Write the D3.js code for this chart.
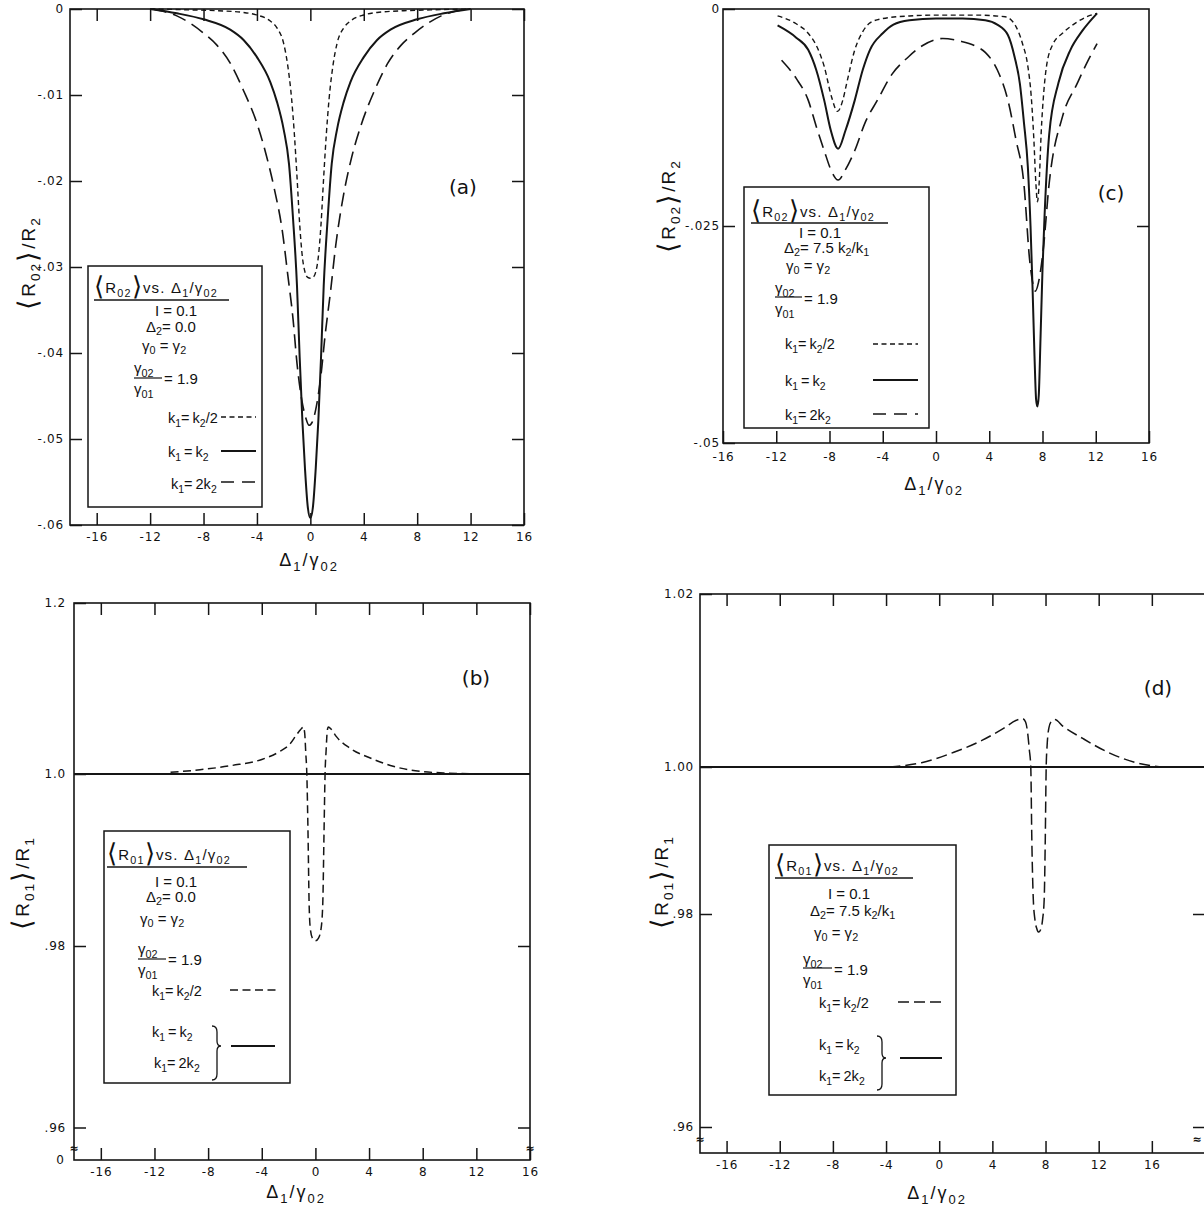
<!DOCTYPE html>
<html><head><meta charset="utf-8">
<script src="https://cdn.jsdelivr.net/npm/d3@7"></script>
<style>
body{margin:0;background:#fff;}
svg{display:block;}
text{font-family:"DejaVu Sans",sans-serif;fill:#111;}
.lg{font-family:"Liberation Sans","Arimo",sans-serif;}
</style></head><body>
<svg id="c" width="1204" height="1209"></svg>
<script>
// ---------------- DATA ----------------
const xTickVals = [-16,-12,-8,-4,0,4,8,12,16];
const xTickLabels = ["-16","-12","-8","-4","0","4","8","12","16"];

const aYTickVals = [0,-0.01,-0.02,-0.03,-0.04,-0.05,-0.06];
const aYTickLabels = ["0","-.01","-.02","-.03","-.04","-.05","-.06"];
const cYTickVals = [0,-0.025,-0.05];
const cYTickLabels = ["0","-.025","-.05"];
const bYTickVals = [1.02,1.00,0.98,0.96];
const bYTickLabels = ["1.2","1.0",".98",".96"];
const dYTickVals = [1.02,1.00,0.98,0.96];
const dYTickLabels = ["1.02","1.00",".98",".96"];

// panel (a): <R02>/R2, Delta2 = 0
const aShortX = [-12,-9,-7,-5,-4,-3,-2.5,-2,-1.7,-1.4,-1.2,-1,-0.8,-0.6,-0.4,-0.2,0,0.2,0.4,0.6,0.8,1,1.2,1.4,1.7,2,2.5,3,4,5,7,9,12];
const aShortY = [0,-0.0001,-0.0002,-0.0004,-0.0007,-0.0014,-0.0022,-0.0040,-0.0065,-0.0105,-0.0145,-0.0195,-0.0250,-0.0288,-0.0306,-0.0312,-0.0313,-0.0312,-0.0306,-0.0288,-0.0250,-0.0195,-0.0145,-0.0105,-0.0065,-0.0040,-0.0022,-0.0014,-0.0007,-0.0004,-0.0002,-0.0001,0];
const aSolidX = [-12,-10,-8,-6,-5,-4,-3,-2.5,-2,-1.6,-1.3,-1,-0.8,-0.6,-0.4,-0.2,0,0.2,0.4,0.6,0.8,1,1.3,1.6,2,2.5,3,4,5,6,8,10,12];
const aSolidY = [0,-0.0005,-0.0012,-0.0024,-0.0036,-0.0056,-0.0085,-0.0108,-0.0140,-0.0180,-0.0243,-0.0322,-0.0405,-0.0478,-0.0535,-0.0578,-0.0592,-0.0578,-0.0535,-0.0478,-0.0405,-0.0322,-0.0243,-0.0180,-0.0140,-0.0108,-0.0085,-0.0056,-0.0036,-0.0024,-0.0012,-0.0005,0];
const aLongX = [-11.8,-10,-8,-7,-6,-5,-4,-3.3,-2.7,-2.1,-1.7,-1.3,-1,-0.65,-0.35,-0.1,0.15,0.45,0.8,1.1,1.5,1.9,2.5,3.1,3.8,4.8,5.8,6.8,7.8,9.8,11.8];
const aLongY = [0,-0.0008,-0.0028,-0.0042,-0.0063,-0.0095,-0.0133,-0.0170,-0.0209,-0.0258,-0.0308,-0.0360,-0.0412,-0.0454,-0.0475,-0.0484,-0.0480,-0.0462,-0.0425,-0.0380,-0.0330,-0.0275,-0.0215,-0.0172,-0.0135,-0.0095,-0.0063,-0.0042,-0.0028,-0.0008,0];

// panel (c): <R02>/R2, Delta2 = 7.5 k2/k1
const cShortX = [-11.9,-10.5,-9.6,-8.9,-8.4,-7.85,-7.4,-7.0,-6.7,-6.1,-5.5,-4.96,-4,-2,0,3,5.2,6.0,6.5,6.9,7.15,7.35,7.5,7.62,7.75,7.9,8.1,8.3,8.8,9.5,10.5,11.3,12.1];
const cShortY = [-0.0008,-0.0017,-0.0028,-0.0045,-0.0066,-0.0101,-0.0118,-0.0105,-0.0085,-0.0047,-0.0026,-0.0016,-0.0011,-0.0008,-0.0007,-0.0007,-0.0009,-0.0020,-0.0040,-0.0066,-0.0100,-0.0150,-0.0200,-0.0222,-0.0200,-0.0143,-0.0095,-0.0066,-0.0040,-0.0028,-0.0016,-0.0009,-0.0005];
const cSolidX = [-11.9,-10.5,-9.6,-9.0,-8.4,-7.9,-7.35,-6.8,-6.1,-5.5,-4.96,-4.0,-3.2,-2,0,2,3.7,4.6,5.4,5.9,6.3,6.6,6.9,7.1,7.25,7.4,7.52,7.62,7.72,7.85,8.0,8.15,8.5,9.2,10.1,11,12.1];
const cSolidY = [-0.0019,-0.0033,-0.0047,-0.0070,-0.0105,-0.0140,-0.0161,-0.0140,-0.0105,-0.0070,-0.0047,-0.0028,-0.0018,-0.0013,-0.0011,-0.0011,-0.0013,-0.0018,-0.0030,-0.0055,-0.0086,-0.0130,-0.0182,-0.0250,-0.0320,-0.0400,-0.0450,-0.0458,-0.0445,-0.0380,-0.0300,-0.0240,-0.0145,-0.0085,-0.0047,-0.0025,-0.0005];
const cLongX = [-11.6,-10.5,-9.6,-9.0,-8.4,-7.9,-7.35,-6.8,-6.1,-5.3,-4.4,-3.3,-2.06,-1,0.5,1.8,3.0,3.7,4.6,5.4,6.0,6.6,7.04,7.3,7.47,7.7,8.05,8.5,9.5,10.6,11.4,12.1];
const cLongY = [-0.0059,-0.0080,-0.0105,-0.0135,-0.0163,-0.0185,-0.0197,-0.0185,-0.0163,-0.0130,-0.0105,-0.0075,-0.0055,-0.0042,-0.0034,-0.0037,-0.0043,-0.0050,-0.0070,-0.0105,-0.0150,-0.0201,-0.0290,-0.0318,-0.0325,-0.0315,-0.0278,-0.0201,-0.0124,-0.0086,-0.0060,-0.0040];

// panel (b): <R01>/R1, Delta2 = 0
const bDashX = [-10.8,-8.6,-6.2,-4,-2.7,-1.9,-1.4,-1.1,-0.9,-0.8,-0.72,-0.64,-0.55,-0.47,-0.38,-0.22,0,0.22,0.42,0.55,0.64,0.72,0.80,0.88,0.96,1.2,1.55,2.6,4.2,5.8,7.9,10,12.2];
const bDashY = [1.0002,1.0005,1.0010,1.0017,1.0026,1.0035,1.0046,1.0052,1.0055,1.0048,1.0025,1.0000,0.9930,0.9850,0.9820,0.9809,0.9806,0.9809,0.9820,0.9850,0.9930,1.0000,1.0028,1.0050,1.0055,1.0052,1.0044,1.0030,1.0018,1.0009,1.0003,1.0001,1.0000];
const bSolidX = [-18,16];
const bSolidY = [1.0,1.0];

// panel (d): <R01>/R1, Delta2 = 7.5 k2/k1
const dDashX = [-3.75,-1.33,1.1,3.25,4.87,5.8,6.27,6.5,6.65,6.78,6.89,6.97,7.08,7.2,7.35,7.48,7.62,7.78,7.9,7.98,8.05,8.12,8.25,8.45,8.7,9.32,10.8,12.7,14.8,16.7];
const dDashY = [1.0000,1.0005,1.0017,1.0031,1.0045,1.0054,1.0056,1.0052,1.0040,1.0020,1.0000,0.9900,0.9820,0.9795,0.9786,0.9783,0.9785,0.9795,0.9820,0.9900,1.0000,1.0025,1.0045,1.0053,1.0055,1.0047,1.0033,1.0017,1.0005,1.0000];
const dSolidX = [-18,20];
const dSolidY = [1.0,1.0];

// texts
const xTitle = "Δ_{1}/γ_{02}";
const yTitleR02 = "⟨R_{02}⟩/R_{2}";
const yTitleR01 = "⟨R_{01}⟩/R_{1}";
const legTitleR02 = "⟨R_{02}⟩vs. Δ_{1}/γ_{02}";
const legTitleR01 = "⟨R_{01}⟩vs. Δ_{1}/γ_{02}";
const parI = "I = 0.1";
const parD2zero = "Δ_{2}= 0.0";
const parD2 = "Δ_{2}= 7.5 k_{2}/k_{1}";
const parG = "γ_{0} = γ_{2}";
const fracNum = "γ_{02}", fracDen = "γ_{01}", fracVal = "= 1.9";
const keyLabels = ["k_{1}= k_{2}/2", "k_{1} = k_{2}", "k_{1}= 2k_{2}"];
const panelLetters = ["(a)","(b)","(c)","(d)"];

// ---------------- DRAWING ----------------
const svg = d3.select("#c");
const INK = "#151515";

function rich(g, x, y, str, fs, anchor, opt){
  opt = opt || {};
  const t = g.append("text").attr("x",x).attr("y",y).attr("font-size",fs)
    .attr("text-anchor",anchor||"start");
  if (opt.cls) t.attr("class",opt.cls);
  if (opt.transform) t.attr("transform",opt.transform);
  if (opt.ls) t.attr("letter-spacing",opt.ls);
  if (opt.ws) t.attr("word-spacing",opt.ws);
  const br = opt.br || 1.5, sub = opt.sub || 0.72, sh = opt.sh || 0.28;
  const parts = str.split(/(_\{[^}]*\}|[⟨⟩])/).filter(s=>s!=="");
  let shift = 0;
  parts.forEach(p=>{
    let txt=p, size=fs, target=0;
    if (p.startsWith("_{")) { txt=p.slice(2,-1); size=fs*sub; target=fs*sh; }
    else if (p==="⟨"||p==="⟩") { size=fs*br; target=fs*0.12; }
    const ts = t.append("tspan").attr("font-size",size).text(txt);
    if (Math.abs(target-shift)>1e-9) ts.attr("dy",target-shift);
    shift = target;
  });
  return t;
}

function panel(cfg){
  const g = svg.append("g");
  const x = d3.scaleLinear().domain(cfg.xDom).range([cfg.l,cfg.r]);
  const y = d3.scaleLinear().domain(cfg.yDom).range(cfg.yRng);
  const fmtX = d => xTickLabels[xTickVals.indexOf(d)];
  const fmtY = d => cfg.yLabels[cfg.yTicks.indexOf(d)];
  const style = sel => { sel.attr("font-size",null).attr("font-family",null);
    sel.select(".domain").remove();
    sel.selectAll(".tick line").attr("stroke",INK).attr("stroke-width",1.5);
    sel.selectAll(".tick text").attr("font-size",12).attr("letter-spacing",0.8).attr("fill",INK); };
  g.append("g").attr("transform",`translate(0,${cfg.b})`)
    .call(d3.axisBottom(x).tickValues(xTickVals).tickSize(-12).tickPadding(cfg.xPad).tickFormat(fmtX)).call(style);
  if (cfg.topTicks) g.append("g").attr("transform",`translate(0,${cfg.t})`)
    .call(d3.axisTop(x).tickValues(xTickVals).tickSize(-12).tickFormat("")).call(style);
  g.append("g").attr("transform",`translate(${cfg.l},0)`)
    .call(d3.axisLeft(y).tickValues(cfg.yTicks).tickSize(-12).tickPadding(cfg.yPad).tickFormat(fmtY)).call(style);
  g.append("g").attr("transform",`translate(${cfg.r},0)`)
    .call(d3.axisRight(y).tickValues(cfg.rightTicks).tickSize(-12).tickFormat("")).call(style);
  g.append("rect").attr("x",cfg.l).attr("y",cfg.t).attr("width",cfg.r-cfg.l).attr("height",cfg.b-cfg.t)
    .attr("fill","none").attr("stroke",INK).attr("stroke-width",1.6);
  cfg.series.forEach(s=>{
    const line = d3.line().x((d,i)=>x(s.xs[i])).y(d=>y(d)).curve(d3.curveMonotoneX);
    g.append("path").attr("d",line(s.ys)).attr("fill","none").attr("stroke",INK)
      .attr("stroke-width",s.w).attr("stroke-dasharray",s.dash||null);
  });
  rich(g, cfg.xt[0], cfg.xt[1], xTitle, 18, "middle", {cls:"lg",ls:2});
  rich(g, 0, 6, cfg.ytText, 19, "middle", {cls:"lg",ls:2,br:1.4,transform:`translate(${cfg.yt[0]},${cfg.yt[1]}) rotate(-90)`});
  g.append("text").attr("x",cfg.lt[0]).attr("y",cfg.lt[1]).attr("font-size",20)
    .attr("text-anchor","middle").attr("font-family","DejaVu Serif, serif").text(cfg.letter);
  return {g,x,y};
}

function legend(g, L){
  const fs = 15, o = {cls:"lg"}, ok = {cls:"lg", ws:-1};
  g.append("rect").attr("x",L.box[0]).attr("y",L.box[1]).attr("width",L.box[2]-L.box[0]).attr("height",L.box[3]-L.box[1])
    .attr("fill","#fff").attr("stroke",INK).attr("stroke-width",1.5);
  rich(g, L.title[0], L.title[1], L.titleText, 15, "start", {cls:"lg",br:1.7,ls:1.2});
  g.append("line").attr("x1",L.ul[0]).attr("x2",L.ul[1]).attr("y1",L.ul[2]).attr("y2",L.ul[2]).attr("stroke",INK).attr("stroke-width",1.4);
  rich(g, L.I[0], L.I[1], parI, fs, "middle", o);
  rich(g, L.D[0], L.D[1], L.dText, fs, "start", {cls:"lg",sh:0.22});
  rich(g, L.G[0], L.G[1], parG, fs, "start", {cls:"lg",sh:0.22});
  const f = L.frac;
  rich(g, f.x, f.num, fracNum, fs, "start", o);
  g.append("line").attr("x1",f.x).attr("x2",f.x2).attr("y1",f.line).attr("y2",f.line).attr("stroke",INK).attr("stroke-width",1.2);
  rich(g, f.x, f.den, fracDen, fs, "start", o);
  rich(g, f.eqx, f.eqy, fracVal, fs, "start", o);
  L.keys.forEach((k,i)=>{
    rich(g, k.tx, k.ty, keyLabels[i], 14.5, "start", ok);
    if (k.lx1!==undefined) g.append("line").attr("x1",k.lx1).attr("x2",k.lx2).attr("y1",k.ly).attr("y2",k.ly)
      .attr("stroke",INK).attr("stroke-width",k.w).attr("stroke-dasharray",k.dash||null);
  });
  if (L.brace){
    const b = L.brace;
    const p = d3.path();
    p.moveTo(b.x, b.y1);
    p.quadraticCurveTo(b.x+5, b.y1, b.x+5, b.y1+6);
    p.lineTo(b.x+5, b.tip-5);
    p.quadraticCurveTo(b.x+5, b.tip, b.x+9, b.tip);
    p.quadraticCurveTo(b.x+5, b.tip, b.x+5, b.tip+5);
    p.lineTo(b.x+5, b.y2-6);
    p.quadraticCurveTo(b.x+5, b.y2, b.x, b.y2);
    g.append("path").attr("d",p.toString()).attr("fill","none").attr("stroke",INK).attr("stroke-width",1.3);
    g.append("line").attr("x1",b.lx1).attr("x2",b.lx2).attr("y1",b.ly).attr("y2",b.ly).attr("stroke",INK).attr("stroke-width",1.8);
  }
}

const SHORT = "5,3.5", LONG = "14,7";

// ---- (a)
const A = panel({l:70,r:524,t:9,b:525,xDom:[-18,16],yDom:[-0.06,0],yRng:[525,9],
  yTicks:aYTickVals,yLabels:aYTickLabels,rightTicks:aYTickVals,topTicks:true,xPad:7,yPad:6,
  xt:[309,566],yt:[29,263],ytText:yTitleR02,lt:[463,194],letter:panelLetters[0],
  series:[{xs:aShortX,ys:aShortY,w:1.4,dash:SHORT},{xs:aSolidX,ys:aSolidY,w:2},{xs:aLongX,ys:aLongY,w:1.6,dash:LONG}]});
legend(A.g,{box:[88,266,262,507],title:[94,293],titleText:legTitleR02,ul:[94,229,300],I:[176,316],D:[146,332],dText:parD2zero,G:[142,351],
  frac:{x:134,num:373,line:378,x2:162,den:394,eqx:164,eqy:384},
  keys:[{tx:168,ty:423,lx1:221,lx2:256,ly:417,w:1.4,dash:SHORT},{tx:168,ty:457,lx1:221,lx2:256,ly:451,w:2},{tx:171,ty:489,lx1:221,lx2:256,ly:482,w:1.6,dash:"13,8"}]});

// ---- (c)
const C = panel({l:723,r:1149,t:9,b:443,xDom:[-16,16],yDom:[-0.05,0],yRng:[443,9],
  yTicks:cYTickVals,yLabels:cYTickLabels,rightTicks:[-0.025],topTicks:false,xPad:9,yPad:3,
  xt:[934,490],yt:[669,206],ytText:yTitleR02,lt:[1111,200],letter:panelLetters[2],
  series:[{xs:cShortX,ys:cShortY,w:1.4,dash:SHORT},{xs:cSolidX,ys:cSolidY,w:2},{xs:cLongX,ys:cLongY,w:1.6,dash:LONG}]});
legend(C.g,{box:[744,187,929,428],title:[751,217],titleText:legTitleR02,ul:[751,888,223],I:[820,238],D:[784,253],dText:parD2,G:[786,271],
  frac:{x:775,num:293,line:297,x2:802,den:314,eqx:804,eqy:304},
  keys:[{tx:785,ty:349,lx1:873,lx2:918,ly:344,w:1.4,dash:SHORT},{tx:785,ty:386,lx1:873,lx2:918,ly:380,w:2},{tx:785,ty:420,lx1:873,lx2:918,ly:414,w:1.6,dash:"13,8"}]});

// ---- (b)
const B = panel({l:74,r:530,t:603,b:1160,xDom:[-18,16],yDom:[0.96,0.98,1.00,1.02],yRng:[1127.5,946,774,603],
  yTicks:bYTickVals,yLabels:bYTickLabels,rightTicks:[0.98,0.96],topTicks:true,xPad:7,yPad:8,
  xt:[296,1198],yt:[23,883],ytText:yTitleR01,lt:[476,685],letter:panelLetters[1],
  series:[{xs:bSolidX,ys:bSolidY,w:2},{xs:bDashX,ys:bDashY,w:1.5,dash:"8,4.5"}]});
legend(B.g,{box:[104,831,290,1083],title:[107,860],titleText:legTitleR01,ul:[107,247,867],I:[176,887],D:[146,902],dText:parD2zero,G:[140,924],
  frac:{x:138,num:954,line:959,x2:166,den:975,eqx:168,eqy:965},
  keys:[{tx:152,ty:996,lx1:230,lx2:280,ly:990,w:1.5,dash:"8,4.5"},{tx:152,ty:1037},{tx:154,ty:1068}],
  brace:{x:212,y1:1026,y2:1080,tip:1046,lx1:231,lx2:275,ly:1046}});
B.g.append("text").attr("x",64).attr("y",1164).attr("font-size",12).attr("text-anchor","end").text("0");
[74,530].forEach(xx=>B.g.append("text").attr("x",xx).attr("y",1152).attr("font-size",11).attr("text-anchor","middle").attr("font-weight","bold").text("≈"));

// ---- (d)
const D = panel({l:700,r:1205,t:594,b:1153,xDom:[-18,20],yDom:[0.96,0.98,1.00,1.02],yRng:[1127,914,767,594],
  yTicks:dYTickVals,yLabels:dYTickLabels,rightTicks:[0.98,0.96],topTicks:true,xPad:7,yPad:6,
  xt:[937,1199],yt:[662,882],ytText:yTitleR01,lt:[1158,695],letter:panelLetters[3],
  series:[{xs:dSolidX,ys:dSolidY,w:2},{xs:dDashX,ys:dDashY,w:1.5,dash:"11,5"}]});
legend(D.g,{box:[769,845,956,1095],title:[775,871],titleText:legTitleR01,ul:[775,913,878],I:[849,899],D:[810,916],dText:parD2,G:[814,938],
  frac:{x:803,num:964,line:968,x2:832,den:985,eqx:834,eqy:975},
  keys:[{tx:819,ty:1008,lx1:898,lx2:943,ly:1002,w:1.5,dash:"11,5"},{tx:819,ty:1050},{tx:819,ty:1081}],
  brace:{x:877,y1:1036,y2:1090,tip:1058,lx1:900,lx2:942,ly:1058}});
D.g.append("text").attr("x",700).attr("y",1143).attr("font-size",11).attr("text-anchor","middle").attr("font-weight","bold").text("≈");
D.g.append("text").attr("x",1197).attr("y",1143).attr("font-size",11).attr("text-anchor","middle").attr("font-weight","bold").text("≈");
</script>
</body></html>
